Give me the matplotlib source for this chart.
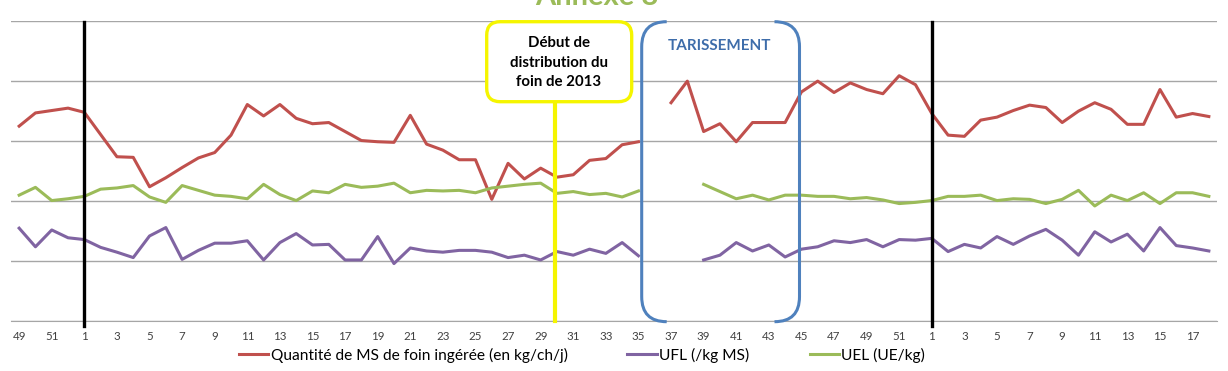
import numpy as np
import matplotlib
matplotlib.use("Agg")
import matplotlib.pyplot as plt
from matplotlib.path import Path
from matplotlib.patches import PathPatch, FancyBboxPatch

plt.rcParams['font.family'] = ['Lato', 'DejaVu Sans']

nan = np.nan

# week numbers (categories)
weeks = [49, 50, 51, 52] + list(range(1, 53)) + list(range(1, 19))

ms_foin = [3.25, 3.47, 3.51, 3.55, 3.48, 3.11, 2.74, 2.73, 2.24, 2.39,
           2.56, 2.72, 2.81, 3.10, 3.61, 3.42, 3.61, 3.38, 3.29, 3.31,
           3.16, 3.01, 2.99, 2.98, 3.43, 2.95, 2.85, 2.69, 2.69, 2.03,
           2.63, 2.37, 2.55, 2.40, 2.44, 2.68, 2.71, 2.94, 2.99, nan,
           3.64, 4.00, 3.16, 3.29, 2.99, 3.31, 3.31, 3.31, 3.82, 4.00,
           3.81, 3.97, 3.86, 3.79, 4.09, 3.94, 3.46, 3.10, 3.08, 3.35,
           3.40, 3.51, 3.60, 3.56, 3.31, 3.50, 3.64, 3.53, 3.28, 3.28,
           3.86, 3.40, 3.46, 3.41]

ufl = [1.55, 1.24, 1.52, 1.39, 1.36, 1.23, 1.15, 1.06, 1.42, 1.56,
       1.03, 1.18, 1.30, 1.30, 1.34, 1.02, 1.31, 1.46, 1.27, 1.28,
       1.02, 1.02, 1.41, 0.96, 1.22, 1.17, 1.15, 1.18, 1.18, 1.15,
       1.06, 1.10, 1.02, 1.16, 1.10, 1.20, 1.13, 1.31, 1.09, nan,
       nan, nan, 1.02, 1.10, 1.31, 1.17, 1.27, 1.07, 1.20, 1.24,
       1.34, 1.31, 1.36, 1.24, 1.36, 1.35, 1.38, 1.16, 1.28, 1.22,
       1.41, 1.28, 1.42, 1.53, 1.35, 1.10, 1.49, 1.32, 1.45, 1.17,
       1.56, 1.26, 1.22, 1.17]

uel = [2.10, 2.23, 2.01, 2.04, 2.08, 2.20, 2.22, 2.26, 2.07, 1.98,
       2.26, 2.18, 2.10, 2.08, 2.04, 2.28, 2.11, 2.01, 2.17, 2.14,
       2.28, 2.23, 2.25, 2.30, 2.14, 2.18, 2.17, 2.18, 2.14, 2.22,
       2.25, 2.28, 2.30, 2.13, 2.16, 2.11, 2.13, 2.07, 2.17, nan,
       nan, nan, 2.28, 2.16, 2.04, 2.10, 2.02, 2.10, 2.10, 2.08,
       2.08, 2.04, 2.06, 2.02, 1.96, 1.98, 2.01, 2.08, 2.08, 2.10,
       2.01, 2.04, 2.03, 1.96, 2.03, 2.18, 1.92, 2.10, 2.01, 2.14,
       1.96, 2.14, 2.14, 2.08]

labels = ["Quantité de MS de foin ingérée (en kg/ch/j)", "UFL (/kg MS)", "UEL (UE/kg)"]
colors = ["#C0504D", "#8064A2", "#9BBB59"]

W, H = 1228, 371
fig = plt.figure(figsize=(W / 100, H / 100), dpi=100)


def px(x, y):
    return (x / W, 1 - y / H)


ax = fig.add_axes([11 / W, 1 - 321.2 / H, (1217 - 11) / W, (321.2 - 20.5) / H])
x = np.arange(len(weeks))
for series, lab, c in zip([ms_foin, ufl, uel], labels, colors):
    ax.plot(x, series, color=c, lw=2.2, label=lab)

ax.set_xlim(-0.5, len(weeks) - 0.5)
ax.set_ylim(0, 5.01)
ax.set_yticks(range(6))
ax.set_yticklabels([])
ax.tick_params(axis='y', length=0)
ax.grid(axis='y', color='#A6A6A6', lw=1.0)
ax.set_axisbelow(True)
for s in ['top', 'left', 'right']:
    ax.spines[s].set_visible(False)
ax.spines['bottom'].set_color('#A6A6A6')
ax.set_xticks(x[::2])
ax.set_xticklabels([str(w) for w in weeks[::2]], fontsize=8.3, color='#404040')
ax.tick_params(axis='x', length=0, pad=7)

# black vertical separators (week 1)
for xi in [4, 56]:
    ax.plot([xi, xi], [-0.08, 4.98], color='black', lw=2.4, clip_on=False, zorder=5)

# yellow line
ax.plot([32.85, 32.85], [0, 3.65], color='#F5F500', lw=3.0, clip_on=False, zorder=5)

# yellow callout box
x0, y0 = px(486.7, 101.7)
x1, y1 = px(631.7, 21.7)
box = FancyBboxPatch((x0, y0), x1 - x0, y1 - y0,
                     boxstyle="round,pad=0,rounding_size=0.011",
                     transform=fig.transFigure, facecolor='white',
                     edgecolor='#F5F500', lw=2.4, zorder=6,
                     mutation_aspect=W / H)
fig.add_artist(box)
for ty, line in zip([43, 63, 82], ["Début de", "distribution du", "foin de 2013"]):
    fig.text(*px(559, ty), line, ha='center', va='center',
             fontsize=10.8, fontweight='bold', color='black', zorder=7)

# blue double bracket
r = 25
top, bot = 21.7, 321.7
left, right = 641.7, 799.5
blue = '#4F81BD'
lb = [px(left + r, top), px(left, top), px(left, top + r), px(left, bot - r),
      px(left, bot), px(left + r, bot)]
rb = [px(right - r, top), px(right, top), px(right, top + r), px(right, bot - r),
      px(right, bot), px(right - r, bot)]
codes = [Path.MOVETO, Path.CURVE3, Path.CURVE3, Path.LINETO, Path.CURVE3, Path.CURVE3]
for pts in (lb, rb):
    fig.add_artist(PathPatch(Path(pts, codes), transform=fig.transFigure,
                             facecolor='none', edgecolor=blue, lw=2.2, zorder=6))
fig.text(*px(720, 46), "TARISSEMENT", ha='center', va='center', fontsize=11,
         fontweight='bold', color='#3E6DAA')

# title (partially cut at top)
fig.text(*px(597, 5), "Annexe 8", ha='center', va='baseline', fontsize=21,
         fontweight='bold', color='#9BBB59')

fig.legend(loc='center', bbox_to_anchor=px(582, 355), ncol=3, frameon=False,
           fontsize=11.2, handlelength=1.9, handletextpad=0.15, columnspacing=3.85)

fig.savefig("out.png", dpi=100)
